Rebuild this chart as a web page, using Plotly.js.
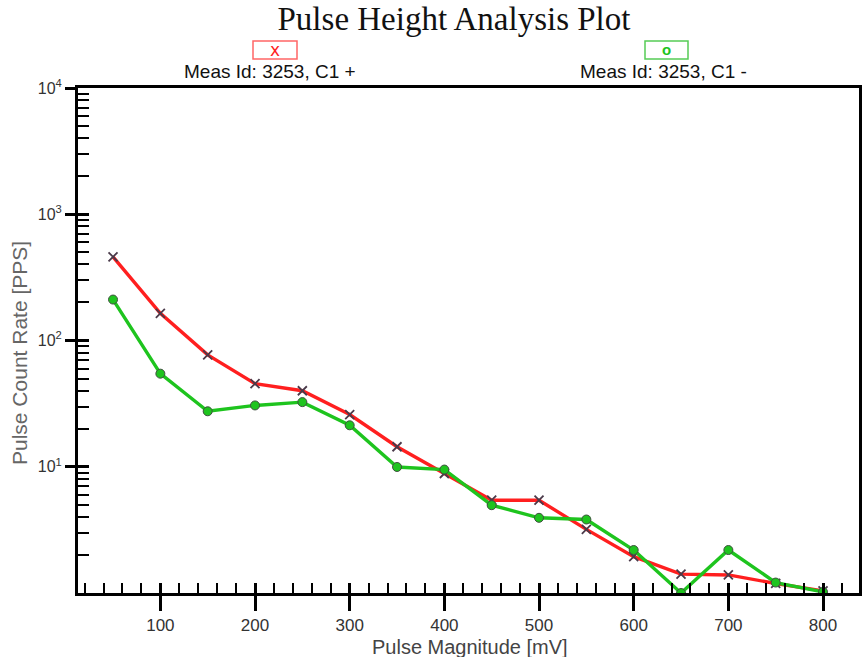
<!DOCTYPE html>
<html>
<head>
<meta charset="utf-8">
<script src="https://cdn.plot.ly/plotly-3.0.1.min.js"></script>
<style>html,body{margin:0;padding:0;background:#fff;}#chart{width:867px;height:657px;}</style>
</head>
<body>
<div id="chart"></div>
<script>
// Data
var pulseMagnitude = [50, 100, 150, 200, 250, 300, 350, 400, 450, 500, 550, 600, 650, 700, 750, 800];
var ratePlus  = [460, 164, 77, 45.5, 40, 25.9, 14.4, 8.84, 5.43, 5.43, 3.19, 1.94, 1.41, 1.39, 1.19, 1.04];
var rateMinus = [211, 54.6, 27.5, 30.6, 32.5, 21.3, 9.96, 9.5, 4.96, 3.94, 3.82, 2.19, 1.0, 2.19, 1.21, 1.02];
var seriesNames = ["Meas Id: 3253, C1 +", "Meas Id: 3253, C1 -"];
var yMajorVals = [10, 100, 1000, 10000];
var yMajorText = ["10<sup>1</sup>", "10<sup>2</sup>", "10<sup>3</sup>", "10<sup>4</sup>"];

var yMinorVals = [];
[1, 10, 100, 1000].forEach(function (d) {
  for (var m = 2; m <= 9; m++) yMinorVals.push(d * m);
});

var W = 867, H = 657, ml = 78, mr = 8, mt = 88, mb = 64;
var pw = W - ml - mr, ph = H - mt - mb;
function px(x) { return (x - ml) / pw; }
function py(y) { return (H - mb - y) / ph; }

var traces = [
  {
    x: pulseMagnitude, y: ratePlus, name: seriesNames[0], type: "scatter", mode: "lines+markers",
    line: {color: "#ff1f1f", width: 3.4},
    marker: {symbol: "x-thin", size: 9, color: "#4a3a4a", line: {color: "#4a3a4a", width: 1.8}},
    showlegend: false
  },
  {
    x: pulseMagnitude, y: rateMinus, name: seriesNames[1], type: "scatter", mode: "lines+markers",
    line: {color: "#1ec41e", width: 3.4},
    marker: {symbol: "circle", size: 9, color: "#1ec41e", line: {color: "#3f503f", width: 1}},
    showlegend: false
  },
  // invisible trace to activate overlay axes that draw inside major ticks
  {x: [100], y: [10], xaxis: "x2", yaxis: "y2", mode: "markers", marker: {opacity: 0}, showlegend: false, hoverinfo: "skip"}
];

var tickFont = {family: "Liberation Sans, Arial, sans-serif", size: 16, color: "#333"};

var layout = {
  width: W, height: H,
  margin: {l: ml, r: mr, t: mt, b: mb},
  paper_bgcolor: "#ffffff",
  plot_bgcolor: "#ffffff",
  title: {
    text: "Pulse Height Analysis Plot",
    font: {family: "Liberation Serif, Times New Roman, serif", size: 33, color: "#111"},
    x: 454 / W, xanchor: "center", xref: "container",
    y: 1 - 18 / H, yanchor: "middle", yref: "container"
  },
  xaxis: {
    range: [13, 838], dtick: 100, tick0: 0,
    showgrid: false, zeroline: false,
    showline: true, linecolor: "#000", linewidth: 3, mirror: true,
    ticks: "outside", ticklen: 15, tickwidth: 3, tickcolor: "#000",
    tickfont: {family: "Liberation Sans, Arial, sans-serif", size: 17, color: "#333"},
    minor: {dtick: 20, tick0: 0, ticks: "inside", ticklen: 10, tickwidth: 2, tickcolor: "#000", showgrid: false}
  },
  yaxis: {
    type: "log", range: [0, 4],
    tickmode: "array", tickvals: yMajorVals, ticktext: yMajorText,
    showgrid: false, zeroline: false,
    showline: true, linecolor: "#000", linewidth: 3, mirror: true,
    ticks: "outside", ticklen: 10, tickwidth: 3, tickcolor: "#000",
    tickfont: tickFont,
    minor: {tickmode: "array", tickvals: yMinorVals, ticks: "inside", ticklen: 11, tickwidth: 2, tickcolor: "#000", showgrid: false}
  },
  xaxis2: {
    overlaying: "x", anchor: "y", side: "bottom", range: [13, 838], dtick: 100, tick0: 0,
    showgrid: false, zeroline: false, showline: false, showticklabels: false,
    ticks: "inside", ticklen: 10, tickwidth: 3, tickcolor: "#000"
  },
  yaxis2: {
    overlaying: "y", anchor: "x", side: "left", type: "log", range: [0, 4],
    tickmode: "array", tickvals: [10, 100, 1000],
    showgrid: false, zeroline: false, showline: false, showticklabels: false,
    ticks: "inside", ticklen: 11, tickwidth: 3, tickcolor: "#000"
  },
  shapes: [
    {type: "rect", xref: "paper", yref: "paper", x0: px(253), x1: px(297), y0: py(59), y1: py(41),
     line: {color: "#ff6666", width: 1.5}, fillcolor: "rgba(0,0,0,0)"},
    {type: "rect", xref: "paper", yref: "paper", x0: px(645), x1: px(688), y0: py(59), y1: py(41),
     line: {color: "#55cc55", width: 1.5}, fillcolor: "rgba(0,0,0,0)"}
  ],
  annotations: [
    {text: "x", xref: "paper", yref: "paper", x: px(275), y: py(50), xanchor: "center", yanchor: "middle",
     showarrow: false, font: {family: "DejaVu Sans, sans-serif", size: 17, color: "#ff1f1f"}},
    {text: "<b>o</b>", xref: "paper", yref: "paper", x: px(666), y: py(50), xanchor: "center", yanchor: "middle",
     showarrow: false, font: {family: "Liberation Sans, Arial, sans-serif", size: 15, color: "#1ec41e"}},
    {text: seriesNames[0], xref: "paper", yref: "paper", x: px(270), y: py(72), xanchor: "center", yanchor: "middle",
     showarrow: false, font: {family: "Liberation Sans, Arial, sans-serif", size: 19, color: "#111"}},
    {text: seriesNames[1], xref: "paper", yref: "paper", x: px(663), y: py(72), xanchor: "center", yanchor: "middle",
     showarrow: false, font: {family: "Liberation Sans, Arial, sans-serif", size: 19, color: "#111"}},
    {text: "Pulse Magnitude [mV]", xref: "paper", yref: "paper", x: px(470), y: py(647), xanchor: "center", yanchor: "middle",
     showarrow: false, font: {family: "Liberation Sans, Arial, sans-serif", size: 20, color: "#444"}},
    {text: "Pulse Count Rate [PPS]", xref: "paper", yref: "paper", x: px(19), y: py(353), xanchor: "center", yanchor: "middle",
     textangle: -90, showarrow: false, font: {family: "Liberation Sans, Arial, sans-serif", size: 21, color: "#666"}}
  ]
};

Plotly.newPlot("chart", traces, layout, {displayModeBar: false, staticPlot: true});
</script>
</body>
</html>
